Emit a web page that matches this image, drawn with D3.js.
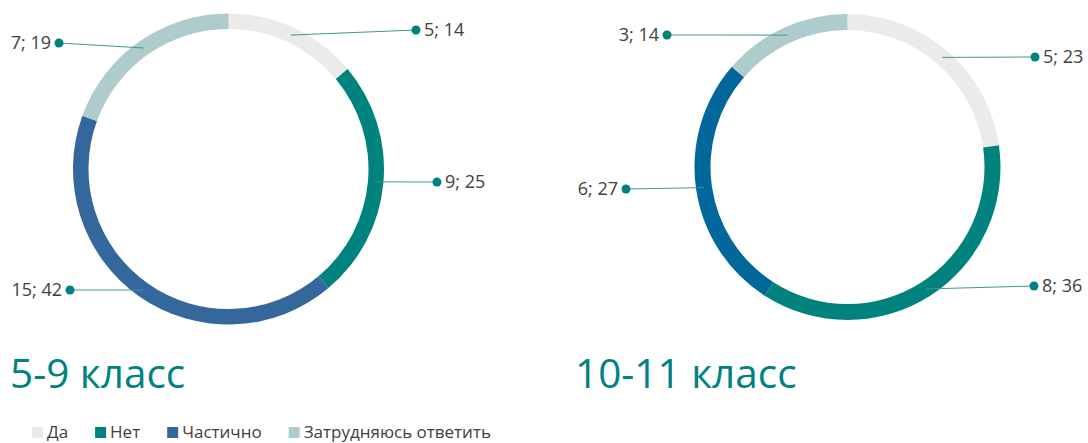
<!DOCTYPE html>
<html>
<head>
<meta charset="utf-8">
<script src="https://cdn.jsdelivr.net/npm/d3@7"></script>
<style>
  html, body { margin: 0; padding: 0; background: #fff; }
  svg { display: block; font-family: "Open Sans", "Noto Sans", sans-serif; }
</style>
</head>
<body>
<svg id="chart" width="1088" height="443"></svg>
<script>
// Survey answers by grade group
const categories = ["Да", "Нет", "Частично", "Затрудняюсь ответить"];
const titles = ["5-9 класс", "10-11 класс"];
const countsJunior = [5, 9, 15, 7];
const percentJunior = [14, 25, 42, 19];
const countsSenior = [5, 8, 6, 3];
const percentSenior = [23, 36, 27, 14];

// Colours per answer (the senior chart uses a brighter blue for "Частично")
const coloursJunior = ["#ebebeb", "#00827e", "#34679b", "#aecccb"];
const coloursSenior = ["#ebebeb", "#00827e", "#02679a", "#aecccb"];

// Donut geometry and label anchor offsets (relative to each donut centre)
const panels = [
  { cx: 228.5, cy: 169, outer: 155.5, thick: 15.5, counts: countsJunior, pct: percentJunior,
    colours: coloursJunior, title: titles[0], titleX: 10,
    labelOffsets: [[187.5, -139], [208.5, 13], [-158.5, 121], [-169.5, -126]] },
  { cx: 847.5, cy: 167, outer: 153, thick: 16, counts: countsSenior, pct: percentSenior,
    colours: coloursSenior, title: titles[1], titleX: 575,
    labelOffsets: [[187.5, -110], [186.5, 119], [-221.5, 22], [-180.5, -132]] }
];

const svg = d3.select("#chart");
const teal = "#00827e";
const textColour = "#404040";

panels.forEach(p => {
  const g = svg.append("g").attr("transform", `translate(${p.cx},${p.cy})`);
  const pie = d3.pie().sort(null).value(d => d)(p.counts);
  const arc = d3.arc().innerRadius(p.outer - p.thick).outerRadius(p.outer);
  const midR = p.outer - p.thick / 2;

  g.selectAll("path.slice").data(pie).join("path")
    .attr("class", "slice")
    .attr("d", arc)
    .attr("fill", (d, i) => p.colours[i]);

  pie.forEach((d, i) => {
    const a = (d.startAngle + d.endAngle) / 2;
    const sx = midR * Math.sin(a), sy = -midR * Math.cos(a);
    const [lx, ly] = p.labelOffsets[i];
    g.append("line")
      .attr("x1", sx).attr("y1", sy).attr("x2", lx).attr("y2", ly)
      .attr("stroke", "#3a9995").attr("stroke-width", 1);
    g.append("circle").attr("cx", lx).attr("cy", ly).attr("r", 4.5).attr("fill", teal);
    const right = lx > 0;
    g.append("text")
      .attr("x", right ? lx + 8 : lx - 8)
      .attr("y", ly)
      .attr("dy", "0.36em")
      .attr("text-anchor", right ? "start" : "end")
      .attr("font-size", 18)
      .attr("fill", textColour)
      .text(`${p.counts[i]}; ${p.pct[i]}`);
  });

  svg.append("text")
    .attr("x", p.titleX).attr("y", 388)
    .attr("font-size", 40.5)
    .attr("fill", teal)
    .text(p.title);
});

// Legend along the bottom edge
const legend = svg.append("g").attr("transform", "translate(32,427)");
let x = 0;
categories.forEach((c, i) => {
  const item = legend.append("g").attr("transform", `translate(${x},0)`);
  item.append("rect").attr("width", 11).attr("height", 11).attr("fill", coloursJunior[i]);
  const t = item.append("text").attr("x", 15).attr("y", 11)
    .attr("font-size", 17).attr("fill", textColour).text(c);
  x += 15 + t.node().getComputedTextLength() + 27;
});
</script>
</body>
</html>
